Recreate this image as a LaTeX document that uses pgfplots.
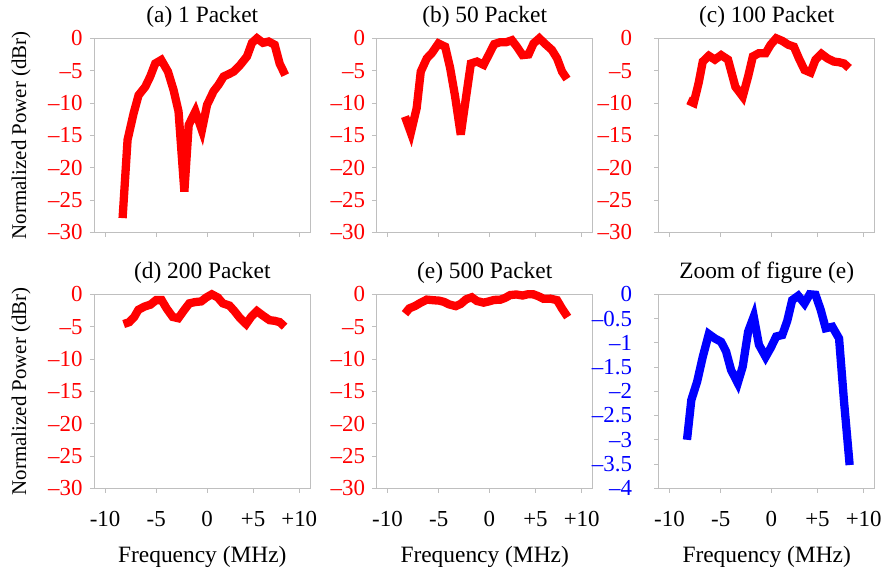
\documentclass[border=0pt]{standalone}
\usepackage{fontspec}
\setmainfont{Liberation Serif}
\usepackage{pgfplots}
\pgfplotsset{compat=1.18}
\definecolor{axgray}{RGB}{191,191,191}
\definecolor{pred}{RGB}{255,0,0}
\definecolor{pblue}{RGB}{0,0,255}
\pgfplotsset{
  panel/.style={
    scale only axis, width=216bp, height=194bp,
    anchor=south west,
    xmin=0, xmax=100, ymin=-30, ymax=0,
    axis line style={axgray, line width=0.9bp},
    every tick/.style={axgray, line width=0.9bp},
    tick align=outside,
    major tick length=4.5bp,
    xtick pos=bottom, ytick pos=left,
    xtick={5,28.7,52.2,73.5,94.9},
    xticklabels={-10,-5,0,+5,+10},
    ytick={-30,-25,-20,-15,-10,-5,0},
    yticklabels={–30,–25,–20,–15,–10,–5,0},
    clip=false,
    title style={font=\fontsize{23.5}{26}\selectfont, at={(0.5,1)}, anchor=base, yshift=10bp},
    xticklabel style={font=\fontsize{23}{25}\selectfont, black, anchor=base, inner sep=0pt, yshift=-34bp},
    yticklabel style={font=\fontsize{23}{24}\selectfont, pred, anchor=east, inner sep=0pt, xshift=-7bp},
    xlabel style={font=\fontsize{23.5}{26}\selectfont, at={(axis description cs:0.5,0)}, anchor=base, yshift=-73.7bp},
    ylabel style={font=\fontsize{21}{24}\selectfont, at={(axis description cs:-0.3394,0.5)}, anchor=center},
    every axis plot/.append style={line width=8.3bp, miter limit=4},
  },
  toprow/.style={xticklabels={}},
}
\begin{document}
\begin{tikzpicture}
\useasboundingbox (0bp,0bp) rectangle (885bp,571bp);
% (a)
\begin{axis}[panel, toprow, at={(94.3bp,338.7bp)}, title={(a) 1 Packet}, ylabel={Normalized Power (dBr)}]
\addplot[pred] coordinates {
(13.1,-27.8) (15.4,-15.7) (18.2,-11.6) (20.5,-8.8) (23.6,-7.5) (25.9,-5.9)
(28.2,-3.9) (31.0,-3.35) (34.1,-5.15) (36.7,-8.0) (39.0,-11.3) (41.7,-23.7)
(43.7,-13.4) (46.8,-11.3) (49.8,-14.2) (52.2,-10.3) (55.2,-8.2) (57.5,-7.2)
(59.9,-5.9) (62.5,-5.5) (64.5,-5.15) (67.6,-4.1) (70.7,-2.8) (73.0,-0.7)
(75.3,0) (78.1,-0.7) (80.7,-0.5) (83.5,-1.0) (85.8,-3.9) (88.4,-5.7)
};
\end{axis}
% (b)
\begin{axis}[panel, toprow, at={(376.7bp,338.7bp)}, title={(b) 50 Packet}]
\addplot[pred] coordinates {
(13.1,-12.1) (15.8,-14.6) (18.5,-10.8) (20.4,-5.15) (23.2,-3.1) (25.5,-2.3)
(28.6,-0.8) (31.7,-1.3) (34.0,-4.6) (36.3,-9.0) (38.9,-14.9) (41.4,-9.0)
(43.6,-3.9) (46.4,-3.6) (49.5,-4.1) (51.8,-2.6) (54.4,-0.9) (57.2,-0.6)
(60.0,-0.6) (62.6,-0.3) (64.9,-1.3) (67.5,-2.6) (70.3,-2.5) (72.6,-0.8)
(75.3,0) (78.1,-0.9) (81.1,-1.8) (83.5,-3.1) (85.8,-5.15) (88.1,-6.3)
};
\end{axis}
% (c)
\begin{axis}[panel, toprow, at={(658.7bp,338.7bp)}, title={(c) 100 Packet}, yticklabel style={xshift=-15bp}]
\addplot[pred] coordinates {
(13.6,-9.6) (16.2,-10.0) (18.5,-6.9) (20.4,-3.6) (23.2,-2.7) (26.0,-3.3)
(28.9,-2.6) (32.1,-3.3) (35.5,-7.5) (38.9,-9.0) (41.4,-5.9) (43.6,-2.8)
(46.4,-2.3) (49.5,-2.3) (51.8,-1.0) (54.4,0) (57.2,-0.4) (60.0,-1.0)
(62.6,-1.3) (64.9,-3.1) (67.5,-4.9) (70.3,-5.3) (72.6,-3.3) (75.3,-2.4)
(78.1,-3.1) (81.1,-3.6) (83.5,-3.7) (85.8,-3.9) (88.1,-4.6)
};
\end{axis}
% (d)
\begin{axis}[panel, at={(94.3bp,82.7bp)}, title={(d) 200 Packet}, ylabel={Normalized Power (dBr)}, xlabel={Frequency (MHz)}]
\addplot[pred] coordinates {
(13.6,-4.6) (16.2,-4.3) (18.5,-3.5) (20.4,-2.4) (23.2,-1.9) (26.0,-1.6)
(28.6,-0.9) (31.2,-0.9) (33.5,-2.2) (36.3,-3.5) (38.9,-3.7) (41.7,-2.4)
(44.0,-1.4) (46.7,-1.2) (49.5,-1.1) (51.8,-0.5) (54.4,0) (57.2,-0.5)
(59.5,-1.4) (62.6,-1.75) (64.9,-2.6) (67.5,-3.7) (70.3,-4.6) (72.6,-3.5)
(75.3,-2.6) (78.1,-3.3) (81.1,-4.0) (83.5,-4.1) (85.8,-4.3) (88.1,-5.0)
};
\end{axis}
% (e)
\begin{axis}[panel, at={(376.7bp,82.7bp)}, title={(e) 500 Packet}, xlabel={Frequency (MHz)}]
\addplot[pred] coordinates {
(13.1,-3.0) (15.1,-2.18) (17.8,-1.8) (20.4,-1.29) (23.2,-0.82) (26.0,-0.91)
(28.9,-0.98) (31.2,-1.18) (33.5,-1.56) (36.6,-1.83) (38.9,-1.49) (41.4,-0.77)
(44.0,-0.46) (46.4,-1.04) (49.5,-1.29) (51.8,-1.11) (54.4,-0.87) (57.2,-0.84)
(59.5,-0.55) (61.8,-0.12) (64.6,-0.03) (67.5,-0.19) (69.9,0) (72.6,-0.01)
(75.0,-0.32) (77.3,-0.70) (80.4,-0.67) (83.5,-0.91) (85.8,-2.21) (88.4,-3.52)
};
\end{axis}
% (f)
\begin{axis}[panel, at={(658.7bp,82.7bp)}, title={Zoom of figure (e)}, xlabel={Frequency (MHz)},
  ymin=-4, ymax=0, ytick={-4,-3.5,-3,-2.5,-2,-1.5,-1,-0.5,0},
  yticklabels={–4,–3.5,–3,–2.5,–2,–1.5,–1,–0.5,0},
  yticklabel style={pblue, xshift=-15bp}]
\addplot[pblue] coordinates {
(13.1,-3.0) (15.1,-2.18) (17.8,-1.8) (20.4,-1.29) (23.2,-0.82) (26.0,-0.91)
(28.9,-0.98) (31.2,-1.18) (33.5,-1.56) (36.6,-1.83) (38.9,-1.49) (41.4,-0.77)
(44.0,-0.46) (46.4,-1.04) (49.5,-1.29) (51.8,-1.11) (54.4,-0.87) (57.2,-0.84)
(59.5,-0.55) (61.8,-0.12) (64.6,-0.03) (67.5,-0.19) (69.9,0) (72.6,-0.01)
(75.0,-0.32) (77.3,-0.70) (80.4,-0.67) (83.5,-0.91) (85.8,-2.21) (88.4,-3.52)
};
\end{axis}
\end{tikzpicture}
\end{document}
